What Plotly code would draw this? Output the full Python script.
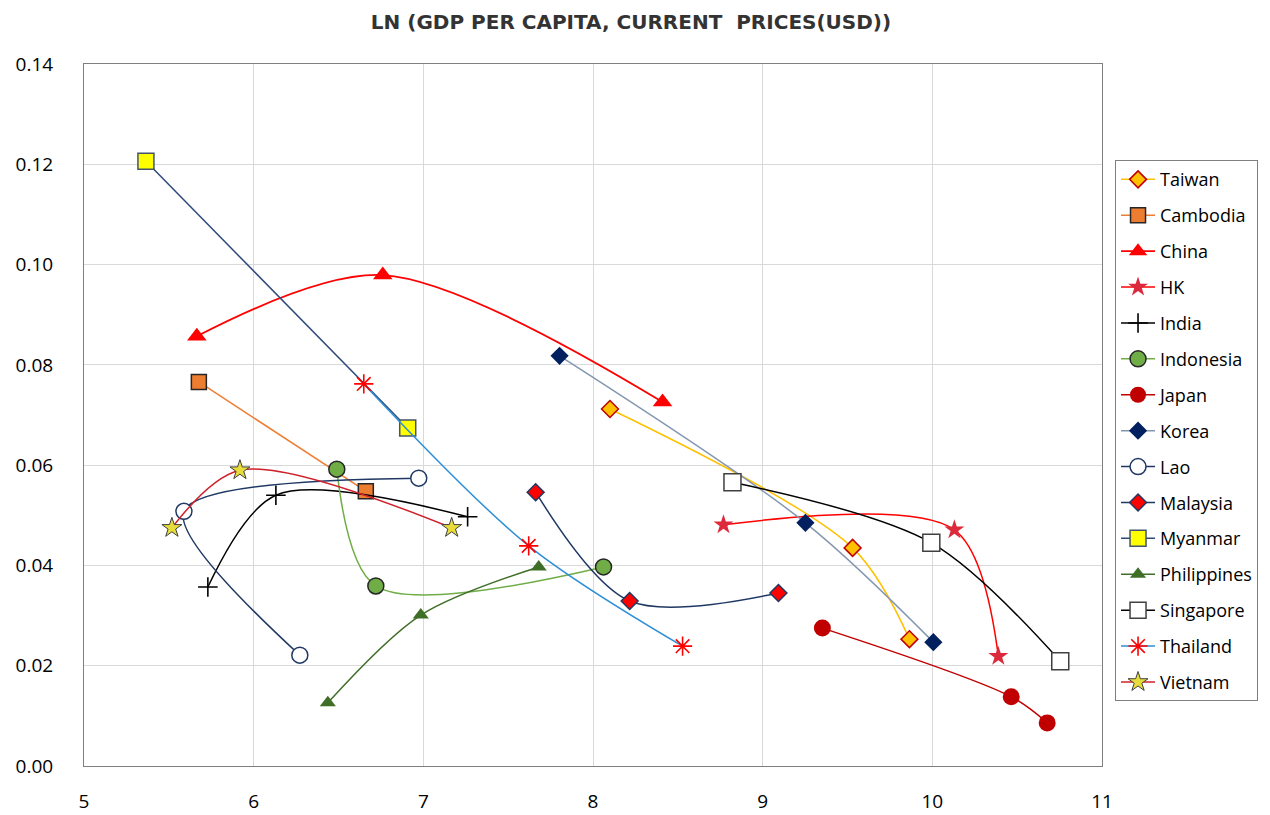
import plotly.graph_objects as go

# ---- data (x = ln GDP per capita, y = value) ----
taiwan_x = [8.10, 9.53, 9.865]
taiwan_y = [0.0712, 0.0435, 0.0253]
cambodia_x = [5.677, 6.661]
cambodia_y = [0.0766, 0.0548]
china_x = [5.665, 6.761, 8.41]
china_y = [0.0857, 0.0979, 0.0726]
hk_x = [8.769, 10.13, 10.389]
hk_y = [0.0481, 0.0471, 0.0219]
india_x = [5.73, 6.131, 7.261]
india_y = [0.0357, 0.0540, 0.0497]
indonesia_x = [6.49, 6.72, 8.062]
indonesia_y = [0.0592, 0.0359, 0.0397]
japan_x = [9.352, 10.465, 10.677]
japan_y = [0.0275, 0.0138, 0.0086]
korea_x = [7.803, 9.252, 10.006]
korea_y = [0.0818, 0.0485, 0.0247]
lao_x = [6.272, 5.589, 6.973]
lao_y = [0.0221, 0.0508, 0.0574]
malaysia_x = [7.662, 8.216, 9.093]
malaysia_y = [0.0546, 0.0329, 0.0345]
myanmar_x = [5.365, 6.908]
myanmar_y = [0.1206, 0.0674]
philippines_x = [6.437, 6.985, 7.68]
philippines_y = [0.0126, 0.0301, 0.0397]
singapore_x = [8.822, 9.994, 10.754]
singapore_y = [0.0566, 0.0445, 0.0209]
thailand_x = [6.649, 7.621, 8.528]
thailand_y = [0.0762, 0.0439, 0.0239]
vietnam_x = [5.518, 5.919, 7.167]
vietnam_y = [0.0475, 0.0590, 0.0475]

x_ticks = [5, 6, 7, 8, 9, 10, 11]
y_ticks = [0.00, 0.02, 0.04, 0.06, 0.08, 0.10, 0.12, 0.14]
title_text = "LN (GDP PER CAPITA, CURRENT&nbsp; PRICES(USD))"

series = [
    ("Taiwan", taiwan_x, taiwan_y, dict(color="#FFC000", width=1.5),
     dict(symbol="diamond", size=13, color="#FFC000", line=dict(color="#C00000", width=1.5))),
    ("Cambodia", cambodia_x, cambodia_y, dict(color="#ED7D31", width=1.5),
     dict(symbol="square", size=15, color="#ED7D31", line=dict(color="#262626", width=1.5))),
    ("China", china_x, china_y, dict(color="#FF0000", width=1.8),
     dict(symbol="triangle-up", size=17, color="#FF0000", line=dict(width=0))),
    ("HK", hk_x, hk_y, dict(color="#FF0000", width=1.5),
     dict(symbol="star", size=15, color="#DC2A3C", line=dict(width=0))),
    ("India", india_x, india_y, dict(color="#000000", width=1.5),
     dict(symbol="cross-thin", size=14, color="#000000", line=dict(color="#000000", width=1.6))),
    ("Indonesia", indonesia_x, indonesia_y, dict(color="#70AD47", width=1.5),
     dict(symbol="circle", size=16, color="#70AD47", line=dict(color="#262626", width=1.5))),
    ("Japan", japan_x, japan_y, dict(color="#C00000", width=1.5),
     dict(symbol="circle", size=17, color="#C00000", line=dict(width=0))),
    ("Korea", korea_x, korea_y, dict(color="#8497B0", width=1.5),
     dict(symbol="diamond", size=14, color="#002060", line=dict(width=0))),
    ("Lao", lao_x, lao_y, dict(color="#203864", width=1.5),
     dict(symbol="circle", size=16, color="#FFFFFF", line=dict(color="#203864", width=1.5))),
    ("Malaysia", malaysia_x, malaysia_y, dict(color="#1F3864", width=1.5),
     dict(symbol="diamond", size=13, color="#FF0000", line=dict(color="#1F3864", width=1.5))),
    ("Myanmar", myanmar_x, myanmar_y, dict(color="#2F4A7A", width=1.5),
     dict(symbol="square", size=16, color="#FFFF00", line=dict(color="#44546A", width=1.5))),
    ("Philippines", philippines_x, philippines_y, dict(color="#3F6E26", width=1.5),
     dict(symbol="triangle-up", size=14, color="#3F6E26", line=dict(width=0))),
    ("Singapore", singapore_x, singapore_y, dict(color="#000000", width=1.5),
     dict(symbol="square", size=17, color="#FFFFFF", line=dict(color="#404040", width=1.5))),
    ("Thailand", thailand_x, thailand_y, dict(color="#2E8FD6", width=1.5),
     dict(symbol="asterisk-open", size=16, color="#FF0000", line=dict(color="#FF0000", width=1.6))),
    ("Vietnam", vietnam_x, vietnam_y, dict(color="#D0202A", width=1.5),
     dict(symbol="star", size=15, color="#E8DC3A", line=dict(color="#404040", width=1))),
]

fig = go.Figure()
for name, xs, ys, ln, mk in series:
    fig.add_trace(go.Scatter(
        x=xs, y=ys, name=name, mode="lines+markers",
        line=dict(shape="spline", smoothing=0.9, **ln),
        marker=mk, legendgroup=name,
    ))

font_main = "Open Sans, Noto Sans, sans-serif"

# page body has an 8px margin: figure is placed at (8, 8)
W, H = 1262, 807
fig.update_layout(
    width=W, height=H,
    paper_bgcolor="white", plot_bgcolor="white",
    margin=dict(l=76, r=168, t=56, b=49, autoexpand=False),
    title=dict(text="<b>" + title_text + "</b>", x=623 / W, xanchor="center", xref="container",
               y=1 - 14 / H, yanchor="middle", yref="container",
               font=dict(family="DejaVu Sans, sans-serif", size=20, color="#333333")),
    showlegend=True,
    legend=dict(x=1.0128, y=0.863, xanchor="left", yanchor="top",
                bordercolor="#7F7F7F", borderwidth=1, bgcolor="white",
                font=dict(family=font_main, size=18, color="#000000"),
                tracegroupgap=9.5, itemwidth=34),
    font=dict(family=font_main),
)

fig.update_xaxes(range=[5, 11], tickvals=x_ticks, ticktext=[str(v) for v in x_ticks],
                 showgrid=True, gridcolor="#D9D9D9", gridwidth=1,
                 showline=True, linecolor="#7F7F7F", linewidth=1, mirror=True,
                 zeroline=False, ticks="", ticklabelstandoff=18, automargin=False,
                 tickfont=dict(family=font_main, size=19, color="#000000"))
fig.update_yaxes(range=[0, 0.14], tickvals=y_ticks, ticktext=[f"{v:.2f}" for v in y_ticks],
                 showgrid=True, gridcolor="#D9D9D9", gridwidth=1,
                 showline=True, linecolor="#7F7F7F", linewidth=1, mirror=True,
                 zeroline=False, ticks="", ticklabelstandoff=26, automargin=False,
                 tickfont=dict(family=font_main, size=19, color="#000000"))

fig.write_html("out.html")
